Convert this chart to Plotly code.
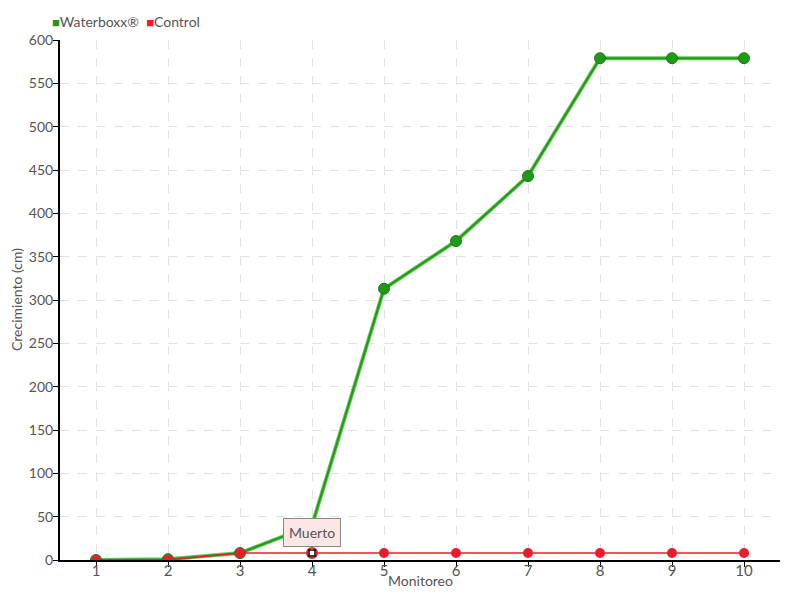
import plotly.graph_objects as go

# Data
monitoreo = [1, 2, 3, 4, 5, 6, 7, 8, 9, 10]
waterboxx = [0, 1, 8, 40, 313, 368, 443, 579, 579, 579]
control = [0, 0, 8, 8, 8, 8, 8, 8, 8, 8]
dead_x = [4]
dead_y = [8]
y_ticks = list(range(0, 601, 50))

FONT = "Lato, Roboto, sans-serif"
TEXT = "#555555"
GRID = "#e2e2e2"
GREEN = "#1f9a16"
RED = "#ee1b2e"

fig = go.Figure()

# Waterboxx: light halo + darker core
fig.add_trace(go.Scatter(
    x=monitoreo, y=waterboxx, mode="lines",
    line=dict(color="#6cc85f", width=4), showlegend=False, hoverinfo="skip",
))
fig.add_trace(go.Scatter(
    x=monitoreo, y=waterboxx, mode="lines+markers", name="Waterboxx®",
    line=dict(color=GREEN, width=2),
    marker=dict(size=11, color=GREEN, line=dict(color="#187a12", width=1)),
))

# Control
fig.add_trace(go.Scatter(
    x=monitoreo, y=control, mode="lines+markers", name="Control",
    line=dict(color=RED, width=1.5),
    marker=dict(size=10, color=RED, line=dict(width=0)),
))

# Dead marker
fig.add_trace(go.Scatter(
    x=dead_x, y=dead_y, mode="markers", showlegend=False,
    marker=dict(size=10, color="white", line=dict(color=RED, width=2)),
))
fig.add_trace(go.Scatter(
    x=dead_x, y=dead_y, mode="markers", showlegend=False,
    marker=dict(size=6, symbol="square", color="white", line=dict(color="black", width=1.5)),
))

fig.add_annotation(
    x=dead_x[0], y=dead_y[0], text="Muerto",
    showarrow=True, arrowhead=0, arrowwidth=1, arrowcolor="#888888",
    ax=0, ay=-21, standoff=3,
    bgcolor="#fde6e6", bordercolor="#888888", borderwidth=1, borderpad=5,
    font=dict(family=FONT, size=14, color=TEXT),
)

# Legend drawn as text with coloured squares
fig.add_annotation(
    xref="paper", yref="paper", x=-0.014, y=1.0365,
    xanchor="left", yanchor="middle", showarrow=False,
    text=(f"<span style='color:{GREEN};font-size:13px'>■</span>Waterboxx®  "
          f"<span style='color:{RED};font-size:13px'>■</span>Control"),
    font=dict(family=FONT, size=14, color=TEXT),
)

# Axis titles
fig.add_annotation(
    xref="paper", yref="paper", x=0.5, y=-0.0385,
    xanchor="center", yanchor="middle", showarrow=False,
    text="Monitoreo", font=dict(family=FONT, size=14, color=TEXT),
)
fig.add_annotation(
    xref="paper", yref="paper", x=-0.0611, y=0.5, textangle=-90,
    xanchor="center", yanchor="middle", showarrow=False,
    text="Crecimiento (cm)", font=dict(family=FONT, size=14, color=TEXT),
)

fig.update_layout(
    paper_bgcolor="white", plot_bgcolor="white",
    margin=dict(l=52, r=12, t=32, b=32, autoexpand=False),
    font=dict(family=FONT, size=14, color=TEXT),
    showlegend=False,
    xaxis=dict(
        range=[0.5, 10.5], tickmode="array", tickvals=monitoreo,
        showline=True, linecolor="black", linewidth=2,
        ticks="outside", ticklen=5, tickcolor="black",
        showgrid=True, gridcolor=GRID, griddash="dash", zeroline=False,
        tickfont=dict(size=15, color=TEXT), automargin=False,
        ticklabelstandoff=-9,
    ),
    yaxis=dict(
        range=[0, 600], tickmode="array", tickvals=y_ticks,
        showline=True, linecolor="black", linewidth=2,
        ticks="outside", ticklen=5, tickcolor="black",
        showgrid=True, gridcolor=GRID, griddash="dash", zeroline=False,
        tickfont=dict(size=14, color=TEXT), automargin=False,
        ticklabelstandoff=-3,
    ),
)

fig.write_html("out.html")
